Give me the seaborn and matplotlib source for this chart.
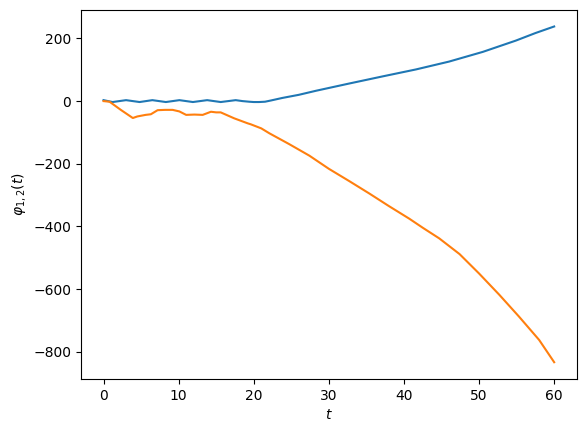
import numpy as np
import matplotlib
matplotlib.use("Agg")
import matplotlib.pyplot as plt
import seaborn as sns
import pandas as pd

# valores
t_blue = [0, 1.2, 2.1, 3.0, 3.9, 4.8, 5.65, 6.5, 7.4, 8.3, 9.2, 10.1, 11.0, 11.9,
          12.85, 13.8, 14.7, 15.6, 16.6, 17.6, 18.5, 19.4, 20.0, 20.7, 21.5, 22.3,
          23.8, 26.0, 28.3, 32.7, 37.2, 41.6, 46.0, 50.5, 54.9, 57.5, 60]
phi1 = [3, -3, 0, 3, 0, -3, 0, 3, 0, -3, 0, 3, 0, -3,
        0, 3, 0, -3, 0, 3, 0, -2, -3, -3, -2, 2,
        10, 20, 33, 56, 79, 101, 126, 157, 193, 217, 238]

t_orange = [0, 0.8, 2.3, 3.9, 4.5, 5.6, 6.3, 7.2, 8.2, 9.2, 10.1, 11.0, 12.1, 13.2,
            14.3, 15.0, 15.6, 17.4, 19.2, 19.6, 21.0, 22.1, 24.7, 27.4, 30.0, 32.7,
            35.4, 38.0, 40.7, 42.5, 44.7, 47.4, 50.0, 52.7, 55.3, 58.0, 60]
phi2 = [0, -2, -28, -54, -49, -44, -42, -29, -28, -28, -33, -44, -43, -44,
        -34, -36, -36, -55, -71, -74, -87, -103, -137, -174, -216, -255,
        -295, -335, -375, -404, -438, -488, -550, -618, -687, -762, -833]

df1 = pd.DataFrame({"t": t_blue, "phi": phi1})
df2 = pd.DataFrame({"t": t_orange, "phi": phi2})

fig, ax = plt.subplots(figsize=(5.87, 4.32), dpi=100)
fig.subplots_adjust(left=81/587, right=576.7/587, top=1-9.7/432, bottom=1-379/432)

sns.lineplot(data=df1, x="t", y="phi", color="tab:blue", ax=ax)
sns.lineplot(data=df2, x="t", y="phi", color="tab:orange", ax=ax)

ax.set_xlabel(r"$t$")
ax.set_ylabel(r"$\varphi_{1,2}(t)$")

plt.savefig("out.png", dpi=100)
